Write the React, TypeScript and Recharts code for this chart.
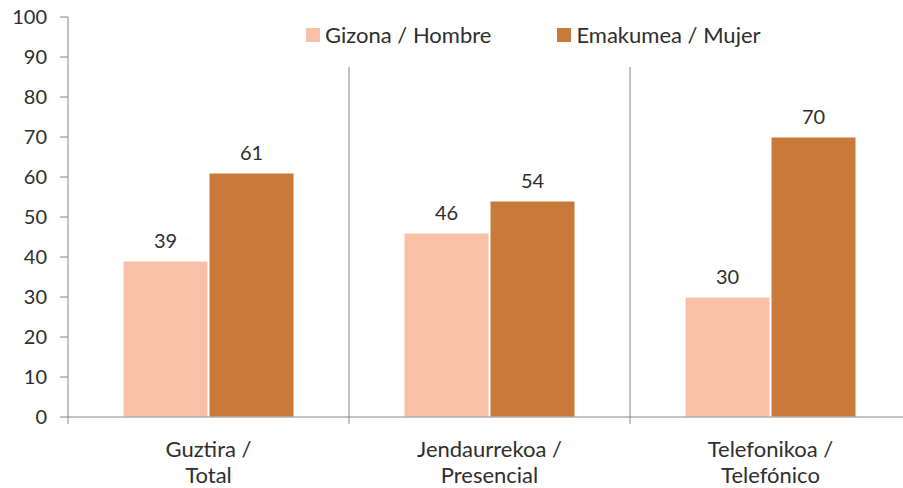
import { BarChart, Bar, XAxis, YAxis, CartesianGrid, Legend, LabelList } from 'recharts';

const categories = ['Guztira / Total', 'Jendaurrekoa / Presencial', 'Telefonikoa / Telefónico'];
const hombre = [39, 46, 30];
const mujer = [61, 54, 70];
const yTicks = [0, 10, 20, 30, 40, 50, 60, 70, 80, 90, 100];

const seriesNames = ['Gizona / Hombre', 'Emakumea / Mujer'];
const seriesColors = ['#F8C1A7', '#C97A3B'];

const data = categories.map((name, i) => ({ name, hombre: hombre[i], mujer: mujer[i] }));

const FONT = 'Lato, "Liberation Sans", sans-serif';
const AXIS = '#868686';
const TEXT = '#2e2e2e';

function CategoryTick(props: any) {
  const { x, y, payload, index, visibleTicksCount } = props;
  const half = payload.offset ?? 140.5;
  const parts = String(payload.value).split(' / ');
  const isLast = index === (visibleTicksCount ?? categories.length) - 1;
  return (
    <g>
      <line x1={x - half} x2={x - half} y1={y} y2={y + 7} stroke={AXIS} />
      {isLast && <line x1={x + half} x2={x + half} y1={y} y2={y + 7} stroke={AXIS} />}
      <text x={x} y={y + 40} textAnchor="middle" fontSize={22} fill={TEXT} fontFamily={FONT}>
        {parts[0] + ' /'}
      </text>
      <text x={x} y={y + 66} textAnchor="middle" fontSize={22} fill={TEXT} fontFamily={FONT}>
        {parts[1]}
      </text>
    </g>
  );
}

function LegendContent() {
  return (
    <div style={{ display: 'flex', gap: 66, fontFamily: FONT, fontSize: 22, color: TEXT, paddingLeft: 6, paddingTop: 5, lineHeight: '26px' }}>
      {seriesNames.map((n, i) => (
        <div key={n} style={{ display: 'flex', alignItems: 'center' }}>
          <span style={{ width: 14, height: 14, background: seriesColors[i], display: 'inline-block', marginRight: 5 }} />
          <span>{n}</span>
        </div>
      ))}
    </div>
  );
}

export default function App() {
  return (
    <div style={{ position: 'absolute', left: 0, top: 0, width: 903, height: 488, overflow: 'hidden', background: '#fff' }}>
      <BarChart
        width={920}
        height={488}
        data={data}
        margin={{ top: 17, right: 9, bottom: 0, left: 8 }}
        barSize={85}
        barGap={1}
      >
        <CartesianGrid
          horizontal={false}
          stroke={AXIS}
          verticalCoordinatesGenerator={({ offset }: any) => [
            offset.left + offset.width / 3,
            offset.left + (2 * offset.width) / 3,
            offset.left + offset.width,
          ]}
        />
        <XAxis
          dataKey="name"
          height={71}
          stroke={AXIS}
          tickLine={false}
          tickSize={0}
          tickMargin={0}
          interval={0}
          tick={<CategoryTick />}
        />
        <YAxis
          width={60}
          domain={[0, 100]}
          ticks={yTicks}
          interval={0}
          stroke={AXIS}
          tickSize={8}
          tickMargin={13}
          tick={{ fill: TEXT, fontSize: 20, fontFamily: FONT }}
        />
        <Legend
          verticalAlign="middle"
          align="center"
          layout="horizontal"
          content={<LegendContent />}
          wrapperStyle={{ top: 17, left: 300, width: 500, height: 50, background: '#fff' }}
        />
        <Bar dataKey="hombre" name={seriesNames[0]} fill={seriesColors[0]} stroke="#fff" strokeWidth={1} isAnimationActive={false}>
          <LabelList dataKey="hombre" position="top" offset={13} fill={TEXT} fontSize={20} fontFamily={FONT} />
        </Bar>
        <Bar dataKey="mujer" name={seriesNames[1]} fill={seriesColors[1]} stroke="#fff" strokeWidth={1} isAnimationActive={false}>
          <LabelList dataKey="mujer" position="top" offset={13} fill={TEXT} fontSize={20} fontFamily={FONT} />
        </Bar>
      </BarChart>
    </div>
  );
}
